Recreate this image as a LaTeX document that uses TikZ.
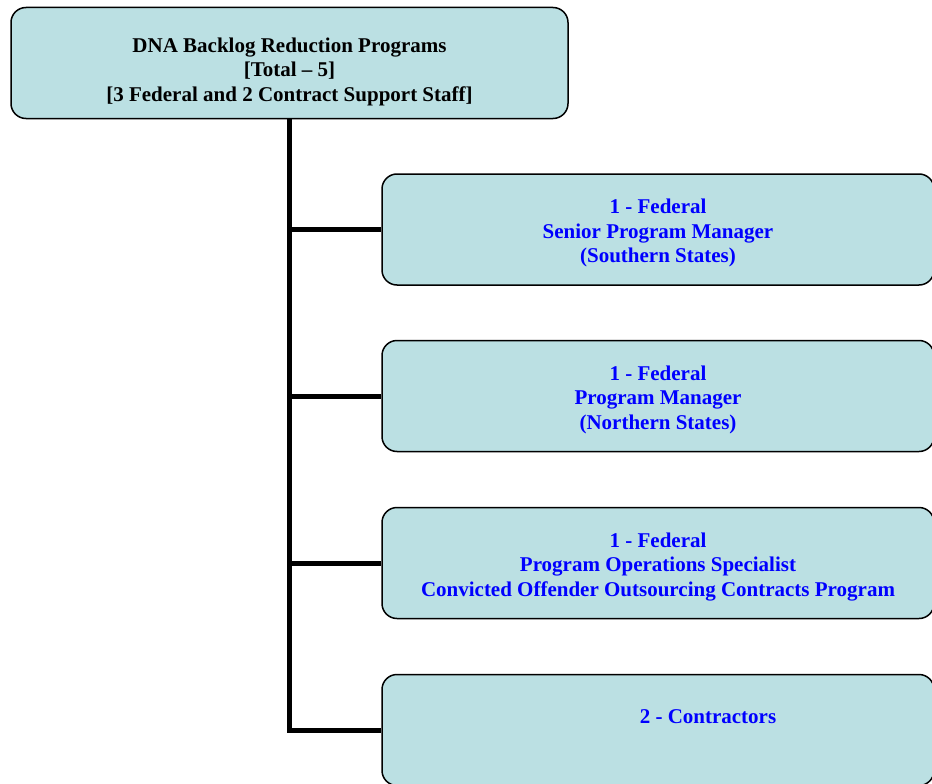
\documentclass[tikz,border=0pt]{standalone}
\usepackage{fontspec}
\setmainfont{Liberation Serif}
\usepackage{tikz}
\definecolor{boxfill}{RGB}{187,224,227}
\tikzstyle{orgbox} = [draw=black, line width=1.5pt, rounded corners=15pt, fill=boxfill, align=center, font=\bfseries\fontsize{21}{24.5}\selectfont]
\tikzstyle{trunk} = [line width=5pt, line join=miter]
% lowers the text inside a box a little
\newcommand{\droptext}[1]{\rule{0pt}{#1}}

\begin{document}
\begin{tikzpicture}[x=1pt, y=-1pt]
  \useasboundingbox (0,0) rectangle (932,784);
  \node[orgbox, minimum width=557pt, minimum height=111pt] (top) at (289.5,63) {\droptext{31.5pt}DNA Backlog Reduction Programs\\ {[Total -- 5]}\\ {[3 Federal and 2 Contract Support Staff]}};
  \node[orgbox, text=blue, minimum width=552pt, minimum height=111pt] (c1) at (658,229.5) {\droptext{22pt}1 - Federal\\ Senior Program Manager\\ (Southern States)};
  \node[orgbox, text=blue, minimum width=552pt, minimum height=111pt] (c2) at (658,396) {\droptext{22pt}1 - Federal\\ Program Manager\\ (Northern States)};
  \node[orgbox, text=blue, minimum width=552pt, minimum height=111pt] (c3) at (658,563) {\droptext{22pt}1 - Federal\\ Program Operations Specialist\\ Convicted Offender Outsourcing Contracts Program};
  \node[orgbox, minimum width=552pt, minimum height=111pt] (c4) at (658,730) {};
  \node[text=blue, font=\bfseries\fontsize{21}{24.5}\selectfont] (c4label) at (708,717) {2 - Contractors};
  \draw[trunk] (top.south) |- (c4.west);
  \draw[trunk] (top.south |- c1.west) -- (c1.west);
  \draw[trunk] (top.south |- c2.west) -- (c2.west);
  \draw[trunk] (top.south |- c3.west) -- (c3.west);
\end{tikzpicture}
\end{document}
